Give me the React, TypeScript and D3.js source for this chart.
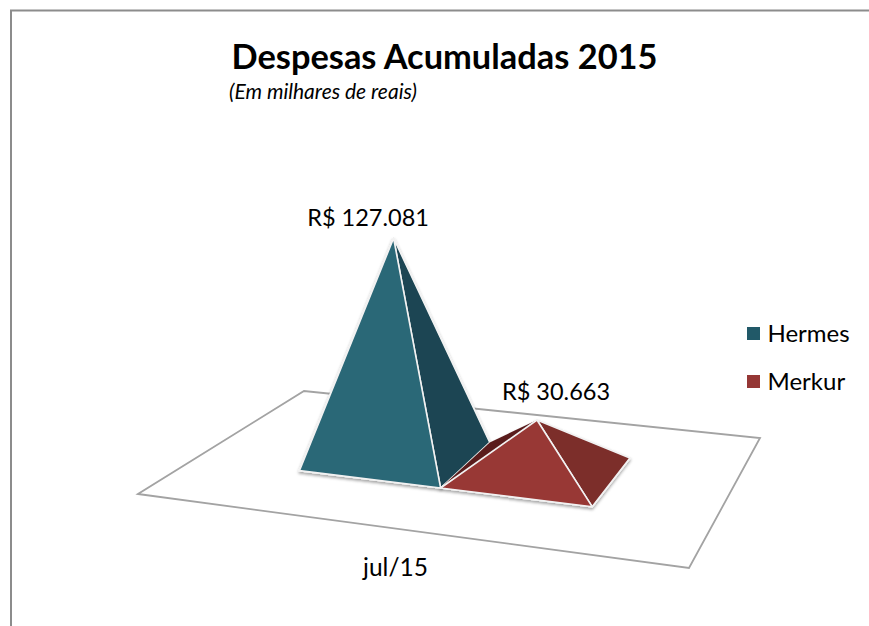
import React from 'react';
import * as d3 from 'd3';

const series = ['Hermes', 'Merkur'];
const values = [127081, 30663];
const category = 'jul/15';
const frontColors = ['#2c6777', '#983735'];
const rightColors = ['#1a4552', '#7b2d2b'];
const leftColors = ['#12323c', '#5a1f1f'];
const legendColors = ['#215968', '#953735'];

const width = 869;
const height = 626;

// floor corners on screen: front-left, front-right, back-right, back-left
const floor = [[138, 494], [689, 568], [760, 438], [304, 391]];

// unit square -> floor quad
function makeProjection(q: number[][]) {
  const [[x0, y0], [x1, y1], [x2, y2], [x3, y3]] = q;
  const dx1 = x1 - x2, dx2 = x3 - x2, sx = x0 - x1 + x2 - x3;
  const dy1 = y1 - y2, dy2 = y3 - y2, sy = y0 - y1 + y2 - y3;
  const den = dx1 * dy2 - dx2 * dy1;
  const g = (sx * dy2 - dx2 * sy) / den;
  const h = (dx1 * sy - sx * dy1) / den;
  const a = x1 - x0 + g * x1, b = x3 - x0 + h * x3;
  const d = y1 - y0 + g * y1, e = y3 - y0 + h * y3;
  return (u: number, v: number): [number, number] => {
    const w = g * u + h * v + 1;
    return [(a * u + b * v + x0) / w, (d * u + e * v + y0) / w];
  };
}

const project = makeProjection(floor);
const xScale = d3.scaleBand<string>().domain(series).range([0.22, 0.786]);
const depth = d3.scaleLinear().domain([0, 1]).range([0.305, 0.705]);
const heightScale = d3.scaleLinear().domain([0, 127081]).range([0, 218]);

const brl = d3.formatLocale({
  decimal: ',',
  thousands: '.',
  grouping: [3],
  currency: ['R$ ', ''],
}).format('$,');

const line = d3.line();
const font = 'Lato, "Open Sans", sans-serif';
const labelOffsets = [[-25.5, -12], [19, -20]];
const lean = 0.016; // verticals lean a little to the left in the 3d view

function Pyramid({ i }: { i: number }) {
  const name = series[i];
  const u0 = xScale(name)!;
  const u1 = u0 + xScale.bandwidth();
  const fl = project(u0, depth(0));
  const fr = project(u1, depth(0));
  const br = project(u1, depth(1));
  const bl = project(u0, depth(1));
  const c = project((u0 + u1) / 2, depth(0.5));
  const h = heightScale(values[i]);
  const apex: [number, number] = [c[0] - h * lean, c[1] - h];
  const edge = { stroke: '#f2f2f2', strokeWidth: 1.6, strokeLinejoin: 'round' as const };
  return (
    <g>
      <g filter="url(#shadow)">
        <path d={line([fl, fr, br, apex])! + 'Z'} fill={rightColors[i]} {...edge} />
        {/* back-left face only shows on the short pyramid */}
        {i === 1 && <path d={line([fl, bl, apex])! + 'Z'} fill={leftColors[i]} stroke="none" />}
        <path d={line([fr, br, apex])! + 'Z'} fill={rightColors[i]} {...edge} />
        <path d={line([fl, fr, apex])! + 'Z'} fill={frontColors[i]} {...edge} />
      </g>
      <text
        x={apex[0] + labelOffsets[i][0]}
        y={apex[1] + labelOffsets[i][1]}
        textAnchor="middle"
        fontSize={23.5}
        fontFamily={font}
        fill="#000"
      >
        {brl(values[i])}
      </text>
    </g>
  );
}

export default function App() {
  return (
    <svg width={width} height={height} style={{ position: 'absolute', left: 0, top: 0, background: '#fff' }}>
      <defs>
        <filter id="shadow" x="-20%" y="-20%" width="140%" height="140%">
          <feDropShadow dx="0" dy="2" stdDeviation="1.5" floodColor="#000" floodOpacity="0.35" />
        </filter>
      </defs>

      <path d={`M11,${height}V10.5H${width}`} fill="none" stroke="#8c8c8c" strokeWidth={2} />

      <text x={444.5} y={69} textAnchor="middle" fontSize={34.4} fontWeight={700} fontFamily={font} fill="#000">
        Despesas Acumuladas 2015
      </text>
      <text x={323} y={99} textAnchor="middle" fontSize={21} fontStyle="italic" fontFamily={font} fill="#000">
        (Em milhares de reais)
      </text>

      <path d={line(floor as [number, number][])! + 'Z'} fill="#fff" stroke="#a3a3a3" strokeWidth={1.8} />

      {series.map((_, i) => <Pyramid key={i} i={i} />)}

      <text x={395.5} y={576} textAnchor="middle" fontSize={24.5} fontFamily={font} fill="#000">{category}</text>

      {series.map((s, i) => (
        <g key={s} transform={`translate(747,${327 + i * 48})`}>
          <rect width={13} height={13} fill={legendColors[i]} />
          <text x={20.5} y={15} fontSize={24} fontFamily={font} fill="#000">{s}</text>
        </g>
      ))}
    </svg>
  );
}
